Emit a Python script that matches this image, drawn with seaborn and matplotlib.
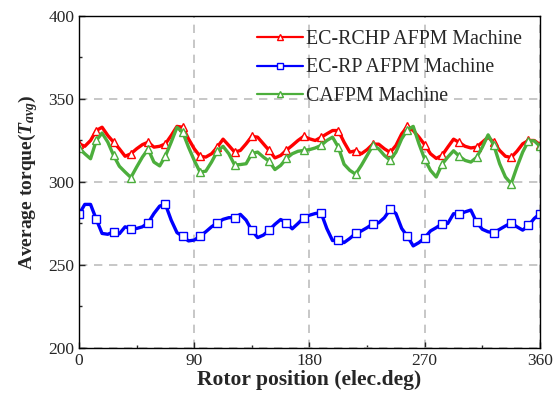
import numpy as np
import pandas as pd
import matplotlib
matplotlib.use("Agg")
import matplotlib.pyplot as plt
import seaborn as sns
from matplotlib.ticker import MultipleLocator

# Rotor position samples (electrical degrees), 4.5 deg step
rotor_pos = [i * 4.5 for i in range(81)]

ec_rchp = [323, 321.5, 325, 331, 333, 328, 324, 320, 315.5, 317,
           320, 322.5, 324, 321, 321.5, 323, 328, 333.5, 333, 326,
           320, 315.5, 315, 317, 321, 325.8, 322, 318, 319, 323,
           327.5, 327, 323, 319, 314.5, 316, 319.2, 322, 325, 327.5,
           326, 325, 326.9, 329, 331, 331, 324, 318, 318.8, 317,
           319.5, 322.8, 322.8, 320, 317.8, 322, 329, 333.5, 331, 327,
           322.4, 317, 314.2, 316, 321, 325.8, 323.8, 321.5, 320.5, 321,
           324, 327, 323.8, 319, 315.5, 314.8, 318.5, 323, 325, 325,
           322.5]

ec_rp = [280.5, 286.5, 286.5, 277.5, 269, 268.5, 270, 268.8, 273, 271.8,
         272, 273, 275.4, 281, 285.5, 286.5, 277, 269.5, 267.3, 264.5,
         265, 267.3, 270, 273, 275.4, 277.5, 278.5, 278.5, 280.5, 277,
         270.8, 266.5, 268, 271, 274.5, 277.4, 275.4, 271.8, 275, 278.5,
         280, 281, 281.5, 272, 264.7, 265.3, 263.5, 266, 269, 270.5,
         272.5, 274.8, 275.4, 278.5, 283.5, 281, 272, 267.3, 261.5, 263.5,
         266.4, 270.5, 272.5, 274.8, 275, 280.9, 280.5, 282, 283.1, 275.8,
         271.5, 270, 269.4, 271.5, 273.5, 275.4, 273, 271, 273.8, 278,
         280.9]

cafpm = [320.5, 317, 314, 325, 329.5, 324, 316, 309.5, 306, 302.7,
         309, 315, 319.8, 312, 309.7, 315.7, 324, 332.9, 330, 321,
         313, 306, 306.5, 312, 318.5, 321.5, 317, 310.3, 310.5, 311,
         317.2, 318, 315, 312.5, 307.5, 310, 314.2, 317, 318.5, 319,
         319.5, 320.5, 322, 325, 327, 321, 310.7, 307, 304.7, 310,
         316, 322, 320, 316, 313.1, 318, 326, 331.5, 333.5, 323,
         313.7, 307, 303, 310.7, 315, 318.8, 315.5, 313, 312, 314.8,
         321, 328.4, 322, 311, 303, 299, 309, 318, 324.8, 324.8,
         321.5]

series_names = ["EC-RCHP AFPM Machine", "EC-RP AFPM Machine", "CAFPM Machine"]
x_ticks = [0, 90, 180, 270, 360]
y_ticks = [200, 250, 300, 350, 400]

sns.set_style("ticks")
plt.rcParams["font.family"] = ["Liberation Serif", "DejaVu Serif"]
plt.rcParams["mathtext.fontset"] = "custom"
plt.rcParams["mathtext.rm"] = "Liberation Serif"
plt.rcParams["mathtext.it"] = "Liberation Serif:italic:bold"
plt.rcParams["mathtext.bf"] = "Liberation Serif:bold"

df = pd.DataFrame({
    "pos": rotor_pos * 3,
    "torque": ec_rchp + ec_rp + cafpm,
    "machine": [series_names[0]] * 81 + [series_names[1]] * 81 + [series_names[2]] * 81,
})

fig = plt.figure(figsize=(5.58, 3.94), dpi=100)
ax = fig.add_axes([0.1416, 0.1168, 0.8261, 0.8426])

colors = {series_names[0]: "#ff0000", series_names[1]: "#0000ff", series_names[2]: "#4cae3c"}
markers = {series_names[0]: "^", series_names[1]: "s", series_names[2]: "^"}
mark_idx = list(range(0, 81, 3)) + [80]

for name in series_names:
    sub = df[df["machine"] == name]
    sns.lineplot(data=sub, x="pos", y="torque", ax=ax, color=colors[name],
                 linewidth=2.4, marker=markers[name], markersize=5.5,
                 markerfacecolor="white", markeredgecolor=colors[name],
                 markeredgewidth=1.0, markevery=mark_idx, sort=False,
                 label=name, legend=False)

ax.set_xlim(0, 360)
ax.set_ylim(200, 400)
ax.set_xticks(x_ticks)
ax.set_yticks(y_ticks)
ax.yaxis.set_minor_locator(MultipleLocator(25))
ax.xaxis.set_minor_locator(MultipleLocator(45))
ax.tick_params(which="both", direction="in", top=False, right=False, width=1.0)
ax.tick_params(which="major", length=4, labelsize=12.5)
ax.tick_params(which="minor", length=2.5)
ax.grid(True, which="major", linestyle=(0, (5, 4)), color="#bdbdbd", linewidth=1.2)
for sp in ax.spines.values():
    sp.set_visible(True)
    sp.set_linewidth(1.0)
    sp.set_color("black")

ax.set_xlabel("Rotor position (elec.deg)", fontsize=15.5, fontweight="bold", labelpad=1)
ax.set_ylabel(r"Average torque($T_{avg}$)", fontsize=14, fontweight="bold", labelpad=6)

handles, labels = ax.get_legend_handles_labels()
leg = ax.legend(handles, labels, loc="upper right", frameon=False, fontsize=14.3,
                handlelength=2.3, handletextpad=0.15, labelspacing=0.5,
                borderaxespad=0.5, bbox_to_anchor=(1.0, 1.013))
for h in leg.legend_handles:
    h.set_linewidth(1.6)
    h.set_markersize(4.5)

fig.savefig("out.png", dpi=100)
